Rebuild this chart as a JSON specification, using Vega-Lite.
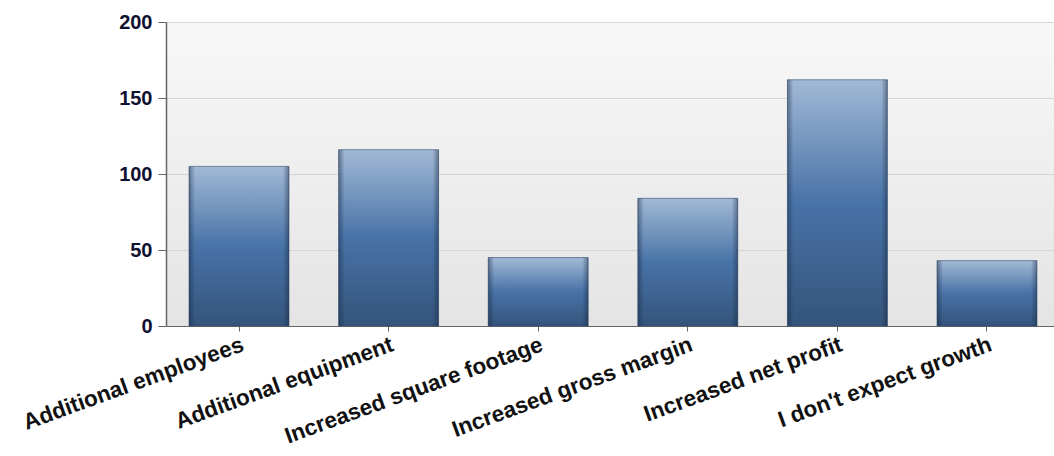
{
  "$schema": "https://vega.github.io/schema/vega-lite/v6.json",
  "autosize": "none",
  "padding": {"left": 166, "top": 22, "right": 0, "bottom": 130},
  "width": 894,
  "height": 304,
  "background": "white",
  "data": {"values": [
    {"cat": "Additional employees", "v": 105},
    {"cat": "Additional equipment", "v": 116},
    {"cat": "Increased square footage", "v": 45},
    {"cat": "Increased gross margin", "v": 84},
    {"cat": "Increased net profit", "v": 162},
    {"cat": "I don't expect growth", "v": 43}
  ]},
  "encoding": {
    "x": {"field": "cat", "type": "nominal", "sort": null,
      "scale": {"paddingInner": 0.332, "paddingOuter": 0.154},
      "axis": {"title": null, "labelAngle": -20, "labelAlign": "right", "labelBaseline": "top",
        "labelFont": "Liberation Sans", "labelFontWeight": "bold", "labelFontSize": 22.5,
        "labelColor": "#111111", "labelPadding": 2, "domainColor": "#666666", "tickColor": "#666666",
        "tickSize": 5, "labelLimit": 400}},
    "y": {"field": "v", "type": "quantitative",
      "scale": {"domain": [0, 200]},
      "axis": {"title": null, "values": [0, 50, 100, 150, 200], "grid": true, "gridColor": "#d4d4d4",
        "labelFont": "Liberation Sans", "labelFontWeight": "bold", "labelFontSize": 20,
        "labelColor": "#101030", "labelPadding": 6, "domainColor": "#666666", "tickColor": "#666666",
        "tickSize": 8, "domainWidth": 1.5}}
  },
  "layer": [
    {
      "mark": {
        "type": "bar",
        "fill": {"gradient": "linear", "x1": 0, "y1": 0, "x2": 0, "y2": 1,
          "stops": [
            {"offset": 0, "color": "#a2b9d5"},
            {"offset": 0.5, "color": "#4873a7"},
            {"offset": 1, "color": "#34547b"}
          ]},
        "stroke": "#2f4a6c",
        "strokeWidth": 1,
        "strokeOpacity": 0.6
      }
    },
    {
      "mark": {
        "type": "bar",
        "fill": {"gradient": "linear", "x1": 0, "y1": 0, "x2": 1, "y2": 0,
          "stops": [
            {"offset": 0, "color": "rgba(20,35,60,0.45)"},
            {"offset": 0.06, "color": "rgba(20,35,60,0)"},
            {"offset": 0.94, "color": "rgba(20,35,60,0)"},
            {"offset": 1, "color": "rgba(20,35,60,0.45)"}
          ]}
      }
    }
  ],
  "config": {
    "view": {
      "stroke": null,
      "fill": {"gradient": "linear", "x1": 0, "y1": 0, "x2": 0, "y2": 1,
        "stops": [
          {"offset": 0, "color": "#f8f8f8"},
          {"offset": 1, "color": "#e4e4e4"}
        ]}
    }
  }
}
